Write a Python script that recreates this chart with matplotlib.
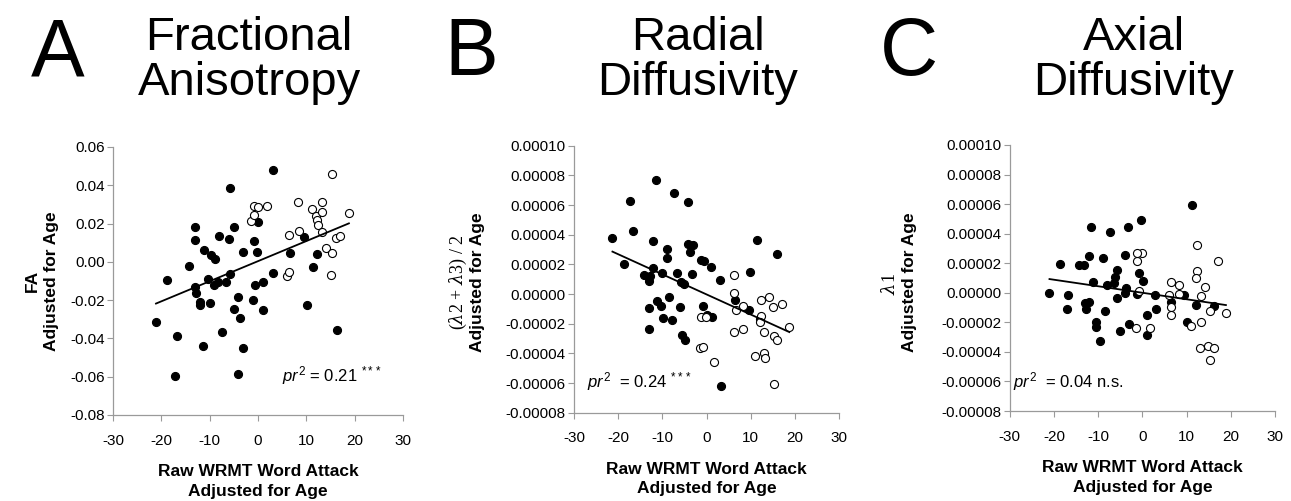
import numpy as np
import matplotlib
matplotlib.use("Agg")
from matplotlib import pyplot as plt
from matplotlib.ticker import FormatStrFormatter

plt.rcParams["font.family"] = ["Liberation Sans", "DejaVu Sans"]
plt.rcParams["mathtext.fontset"] = "custom"
plt.rcParams["mathtext.rm"] = "Liberation Sans"
plt.rcParams["mathtext.it"] = "Liberation Sans:italic"
plt.rcParams["axes.unicode_minus"] = False

# --- data ----------------------------------------------------------------
# A: fractional anisotropy (filled = one group, open = the other)
fa_solid_x = [-21.1, -18.8, -16.7, -17.2, -14.3, -13.1, -13.1, -13.0, -12.8, -12.1,
              -12.1, -11.2, -11.4, -10.0, -10.3, -9.7, -8.9, -9.1, -8.2, -8.1,
              -7.4, -6.6, -6.1, -5.8, -5.7, -5.0, -5.0, -4.1, -3.8, -4.1,
              -3.1, -3.1, -1.1, -0.8, -0.3, -0.6, 0.1, 1.0, 1.1, 3.0,
              3.2, 6.6, 9.5, 10.1, 11.4, 12.2, 16.3]
fa_solid_y = [-0.0313, -0.0096, -0.0388, -0.0597, -0.0023, 0.0184, 0.0115, -0.0132, -0.0165, -0.0209,
              -0.0228, 0.0063, -0.0442, -0.0216, -0.0089, 0.0038, 0.0014, -0.0122, -0.0106, 0.0134,
              -0.0367, -0.0106, 0.0117, -0.0063, 0.0386, 0.0184, -0.0244, -0.0184, -0.0292, -0.0588,
              -0.0451, 0.0054, -0.0197, 0.0110, 0.0050, -0.0122, 0.0207, -0.0249, -0.0106, -0.0059,
              0.0480, 0.0047, 0.0131, -0.0224, -0.0026, 0.0040, -0.0358]
fa_open_x = [-1.5, -0.9, -0.8, 0.0, 1.8, 6.4, 6.1, 6.4, 8.3, 8.5, 11.1, 11.9,
             13.2, 13.2, 12.3, 12.5, 13.3, 14.1, 15.4, 15.4, 15.0, 16.1, 17.0, 18.8]
fa_open_y = [0.0212, 0.0245, 0.0294, 0.0289, 0.0291, 0.0141, -0.0075, -0.0054, 0.0315, 0.0160, 0.0277, 0.0242,
             0.0313, 0.0261, 0.0216, 0.0193, 0.0158, 0.0071, 0.0458, 0.0047, -0.0071, 0.0122, 0.0137, 0.0256]
fa_fit = (0.00105, 0.00036)  # slope, intercept

# B: radial diffusivity
rd_solid_x = [-21.3, -18.6, -17.3, -16.7, -14.2, -13.0, -12.8, -12.1, -12.1, -13.0,
              -13.1, -11.4, -11.2, -10.4, -10.1, -9.8, -9.0, -8.9, -8.4, -7.9,
              -7.3, -6.6, -6.1, -5.9, -5.1, -5.6, -5.0, -4.1, -4.2, -3.8,
              -3.0, -3.2, -1.3, -0.5, -0.8, 0.0, 0.9, 1.2, 3.0, 3.2,
              6.5, 9.5, 9.9, 11.3, 12.1, 16.0]
rd_solid_y = [3.75e-5, 2.04e-5, 6.26e-5, 4.24e-5, 1.28e-5, 0.90e-5, 1.23e-5, 1.77e-5, 3.55e-5, -0.97e-5,
              -2.33e-5, 7.68e-5, -0.45e-5, -0.79e-5, 1.39e-5, -1.62e-5, 3.01e-5, 2.40e-5, -0.18e-5, -1.73e-5,
              6.78e-5, 1.39e-5, -0.88e-5, 0.79e-5, 0.67e-5, -2.78e-5, -3.10e-5, 6.17e-5, 3.34e-5, 2.81e-5,
              3.28e-5, 1.35e-5, 2.27e-5, 2.20e-5, -0.83e-5, -1.39e-5, 1.82e-5, -1.57e-5, 0.97e-5, -6.22e-5,
              -0.40e-5, -1.10e-5, 1.48e-5, 3.66e-5, -1.68e-5, 2.69e-5]
rd_open_x = [-1.2, -1.6, -0.8, -0.2, 1.6, 6.1, 6.3, 6.6, 6.3, 8.3, 8.3, 10.9, 12.2,
             12.3, 12.0, 13.0, 13.0, 13.1, 14.1, 14.9, 15.3, 16.0, 15.3, 17.0, 18.7]
rd_open_y = [-1.53e-5, -3.66e-5, -3.59e-5, -1.53e-5, -4.58e-5, 0.09e-5, 1.28e-5, -1.10e-5, -2.56e-5,
             -0.81e-5, -2.33e-5, -4.18e-5, -0.40e-5, -1.46e-5, -1.89e-5, -2.58e-5, -4.00e-5, -4.31e-5,
             -0.22e-5, -0.90e-5, -2.83e-5, -3.10e-5, -6.08e-5, -0.67e-5, -2.22e-5]
rd_fit = (-1.356e-6, -3e-7)

# C: axial diffusivity
ad_solid_x = [-21.0, -18.6, -16.7, -17.1, -14.3, -13.2, -13.0, -12.8, -12.1, -12.0,
              -11.5, -11.2, -10.5, -10.5, -9.6, -9.0, -8.4, -8.1, -7.4, -6.5,
              -6.2, -5.8, -5.7, -5.0, -3.9, -3.8, -4.0, -3.2, -3.1, -1.3,
              -0.8, -0.3, 0.2, 1.0, 1.1, 3.0, 2.9, 6.5, 9.5, 10.0,
              11.2, 12.1, 16.1]
ad_solid_y = [-0.02e-5, 1.96e-5, -0.14e-5, -1.10e-5, 1.87e-5, 1.87e-5, -0.70e-5, -1.10e-5, -0.63e-5, 2.48e-5,
              4.46e-5, 0.74e-5, -2.00e-5, -2.34e-5, -3.24e-5, 2.32e-5, -1.24e-5, 0.50e-5, 4.12e-5, 0.63e-5,
              1.08e-5, 1.51e-5, -0.38e-5, -2.61e-5, 2.59e-5, 0.29e-5, -0.02e-5, 4.46e-5, -2.09e-5, -0.09e-5,
              1.37e-5, 4.95e-5, 0.79e-5, -1.51e-5, -2.84e-5, -1.13e-5, -0.14e-5, -0.61e-5, -0.16e-5, -2.00e-5,
              5.92e-5, -0.83e-5, -0.88e-5]
ad_open_x = [-1.3, 0.0, -1.1, -0.7, -1.4, 1.8, 6.1, 6.5, 6.5, 6.5, 8.4, 8.4, 10.9,
             12.4, 12.4, 12.1, 14.1, 13.3, 13.3, 13.1, 14.8, 15.4, 15.3, 16.1, 17.2, 18.9]
ad_open_y = [2.14e-5, 2.70e-5, 2.66e-5, 0.09e-5, -2.36e-5, -2.41e-5, -0.16e-5, 0.74e-5, -0.99e-5,
             -1.51e-5, 0.52e-5, -0.09e-5, -2.27e-5, 3.24e-5, 1.46e-5, 0.97e-5, 0.41e-5, -0.20e-5,
             -1.96e-5, -3.71e-5, -3.58e-5, -4.55e-5, -1.26e-5, -3.76e-5, 2.14e-5, -1.40e-5]
ad_fit = (-4.41e-7, 2.4e-8)

x_ticks = [-30, -20, -10, 0, 10, 20, 30]
fa_ticks = [-0.08, -0.06, -0.04, -0.02, 0.00, 0.02, 0.04, 0.06]
diff_ticks = [-8e-5, -6e-5, -4e-5, -2e-5, 0.0, 2e-5, 4e-5, 6e-5, 8e-5, 1e-4]

panels = [
    dict(letter="A", title=("Fractional", "Anisotropy"),
         solid=(fa_solid_x, fa_solid_y), hollow=(fa_open_x, fa_open_y), fit=fa_fit,
         yticks=fa_ticks, fmt="%.2f",
         rect=[0.0875, 0.1717, 0.2247, 0.5349],
         stat=r"$pr^2$ = 0.21 $^{***}$", stat_xy=(4.9, -0.0627),
         letter_x=0.045, title_x=0.193),
    dict(letter="B", title=("Radial", "Diffusivity"),
         solid=(rd_solid_x, rd_solid_y), hollow=(rd_open_x, rd_open_y), fit=rd_fit,
         yticks=diff_ticks, fmt="%.5f",
         rect=[0.4446, 0.1763, 0.2055, 0.5329],
         stat=r"$pr^2$  = 0.24 $^{***}$", stat_xy=(-27.1, -6.3e-5),
         letter_x=0.3652, title_x=0.5407),
    dict(letter="C", title=("Axial", "Diffusivity"),
         solid=(ad_solid_x, ad_solid_y), hollow=(ad_open_x, ad_open_y), fit=ad_fit,
         yticks=diff_ticks, fmt="%.5f",
         rect=[0.7821, 0.1796, 0.2055, 0.5310],
         stat=r"$pr^2$  = 0.04 n.s.", stat_xy=(-29.2, -6.4e-5),
         letter_x=0.7041, title_x=0.8780),
]

fig = plt.figure(figsize=(12.91, 5.01), dpi=100)
spine_gray = "#9a9a9a"

axes = []
for p in panels:
    ax = fig.add_axes(p["rect"])
    axes.append(ax)

    sx, sy = p["solid"]
    ox, oy = p["hollow"]
    ax.plot(sx, sy, "o", ms=5.8, mfc="black", mec="black", mew=0.8, zorder=3)
    ax.plot(ox, oy, "o", ms=5.8, mfc="white", mec="black", mew=0.8, zorder=3)

    all_x = np.array(sx + ox)
    xs = np.array([all_x.min(), all_x.max()])
    slope, icpt = p["fit"]
    ax.plot(xs, slope * xs + icpt, color="black", lw=1.3, zorder=4)

    ax.set_xlim(-30, 30)
    ax.set_ylim(p["yticks"][0], p["yticks"][-1])
    ax.set_xticks(x_ticks)
    ax.set_yticks(p["yticks"])
    ax.yaxis.set_major_formatter(FormatStrFormatter(p["fmt"]))
    ax.tick_params(axis="both", direction="out", length=4.5, width=0.8,
                   color=spine_gray, labelsize=11)
    ax.tick_params(axis="y", pad=1.5)
    ax.tick_params(axis="x", pad=9)
    for side in ("top", "right"):
        ax.spines[side].set_visible(False)
    for side in ("left", "bottom"):
        ax.spines[side].set_color(spine_gray)
        ax.spines[side].set_linewidth(0.9)

    ax.text(p["stat_xy"][0], p["stat_xy"][1], p["stat"], fontsize=12, va="baseline")

    ax.set_xlabel("Raw WRMT Word Attack\nAdjusted for Age", fontsize=12.5,
                  fontweight="bold", labelpad=12, linespacing=1.35)

    # panel letter and two-line title
    fig.text(p["letter_x"], 0.850, p["letter"], fontsize=58, ha="center", va="baseline")
    fig.text(p["title_x"], 0.900, p["title"][0], fontsize=34, ha="center", va="baseline")
    fig.text(p["title_x"], 0.810, p["title"][1], fontsize=34, ha="center", va="baseline")

# y-axis titles
axes[0].set_ylabel("FA\nAdjusted for Age", fontsize=12.5, fontweight="bold",
                   labelpad=8, linespacing=1.3)
fig.text(0.3548, 0.437, r"($\lambda$2 + $\lambda$3) / 2", rotation=90, ha="center", va="center",
         fontsize=13, family=["Liberation Serif", "DejaVu Serif"], math_fontfamily="dejavuserif")
fig.text(0.3695, 0.437, "Adjusted for Age", rotation=90, ha="center", va="center",
         fontsize=12.5, fontweight="bold")
fig.text(0.6893, 0.433, r"$\lambda$1", rotation=90, ha="center", va="center",
         fontsize=13, family=["Liberation Serif", "DejaVu Serif"], math_fontfamily="dejavuserif")
fig.text(0.7045, 0.437, "Adjusted for Age", rotation=90, ha="center", va="center",
         fontsize=12.5, fontweight="bold")

plt.savefig("out.png", dpi=100)
plt.close()
